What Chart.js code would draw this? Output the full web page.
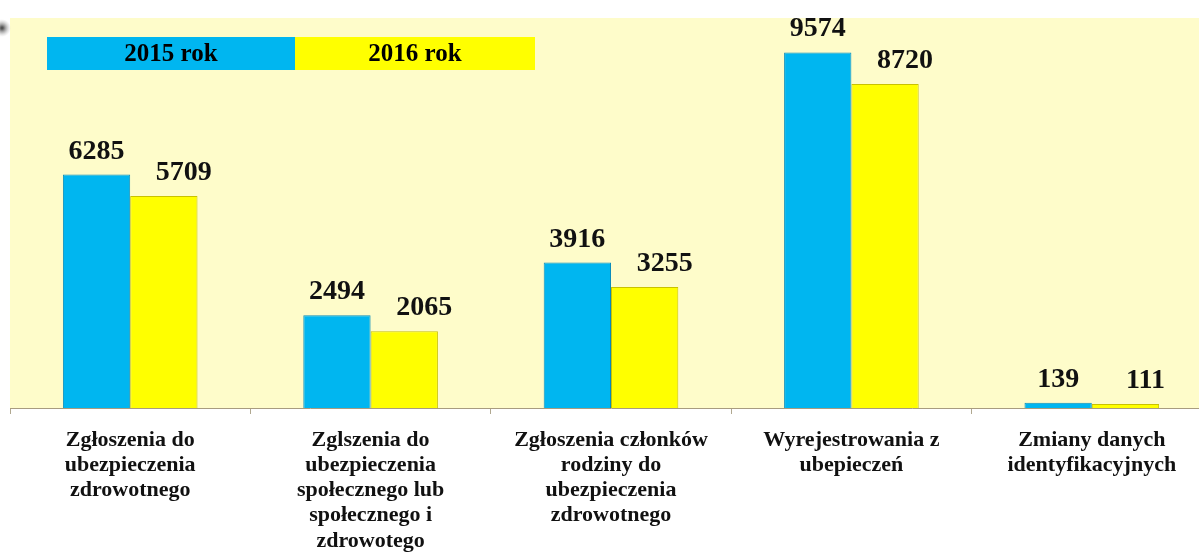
<!DOCTYPE html>
<html>
<head>
<meta charset="utf-8">
<script src="https://cdn.jsdelivr.net/npm/chart.js@4"></script>
<style>
  html, body { margin: 0; padding: 0; background: #fff; overflow: hidden; }
  #wrap { position: absolute; left: 0; top: 0; width: 1212px; height: 554px; }
</style>
</head>
<body>
<div id="wrap"><canvas id="mainCanvas"></canvas></div>
<script>
const categories = [
    ["Zgłoszenia do", "ubezpieczenia", "zdrowotnego"],
    ["Zglszenia do", "ubezpieczenia", "społecznego lub", "społecznego i", "zdrowotego"],
    ["Zgłoszenia członków", "rodziny do", "ubezpieczenia", "zdrowotnego"],
    ["Wyrejestrowania z", "ubepieczeń"],
    ["Zmiany danych", "identyfikacyjnych"]
];
const values2015 = [6285, 2494, 3916, 9574, 139];
const values2016 = [5709, 2065, 3255, 8720, 111];
const seriesNames = ["2015 rok", "2016 rok"];

const SERIF = "'Liberation Serif', 'DejaVu Serif', serif";

// cream plot background
const backPlugin = {
    id: 'back',
    beforeDraw(chart) {
        const ctx = chart.ctx, a = chart.chartArea;
        ctx.save();
        ctx.fillStyle = '#fefcca';
        ctx.fillRect(a.left, a.top, chart.width - a.left, a.bottom - a.top);
        // little grey knob at the top-left
        const g = ctx.createRadialGradient(2, 28, 1, 2, 28, 9);
        g.addColorStop(0, '#555');
        g.addColorStop(1, 'rgba(200,200,200,0)');
        ctx.fillStyle = g;
        ctx.beginPath();
        ctx.arc(2, 28, 9, 0, Math.PI * 2);
        ctx.fill();
        ctx.restore();
    }
};

// value labels above bars
const valuePlugin = {
    id: 'values',
    afterDatasetsDraw(chart) {
        const ctx = chart.ctx;
        ctx.save();
        ctx.font = "bold 28px " + SERIF;
        ctx.fillStyle = '#111';
        ctx.textAlign = 'center';
        ctx.textBaseline = 'alphabetic';
        chart.data.datasets.forEach((ds, i) => {
            const shift = i === 0 ? 0 : 20;
            chart.getDatasetMeta(i).data.forEach((bar, j) => {
                ctx.fillText(String(ds.data[j]), bar.x + shift, bar.y - 16);
            });
        });
        ctx.restore();
    }
};

// boxed legend at top-left
const legendPlugin = {
    id: 'boxLegend',
    afterDraw(chart) {
        const ctx = chart.ctx;
        const boxes = [[47, 295], [295, 535]];
        ctx.save();
        ctx.font = "bold 25px " + SERIF;
        ctx.textAlign = 'center';
        ctx.textBaseline = 'middle';
        chart.data.datasets.forEach((ds, i) => {
            const [x0, x1] = boxes[i];
            ctx.fillStyle = ds.backgroundColor;
            ctx.fillRect(x0, 37, x1 - x0, 33);
            ctx.fillStyle = '#000';
            ctx.fillText(ds.label, (x0 + x1) / 2, 55);
        });
        ctx.restore();
    }
};

new Chart(document.getElementById('mainCanvas'), {
    type: 'bar',
    data: {
        labels: categories,
        datasets: [
            {
                label: seriesNames[0],
                data: values2015,
                backgroundColor: '#00b6f0',
                borderColor: '#0a8cbc',
                borderWidth: 1
            },
            {
                label: seriesNames[1],
                data: values2016,
                backgroundColor: '#ffff00',
                borderColor: '#c9c200',
                borderWidth: 1
            }
        ]
    },
    options: {
        responsive: true,
        maintainAspectRatio: false,
        animation: false,
        layout: { padding: { left: 10, top: 18, right: 0, bottom: 0 } },
        plugins: {
            legend: { display: false },
            tooltip: { enabled: false }
        },
        datasets: {
            bar: { categoryPercentage: 0.56, barPercentage: 1 }
        },
        scales: {
            y: {
                display: false,
                min: 0,
                max: 10500
            },
            x: {
                grid: {
                    drawOnChartArea: false,
                    drawTicks: true,
                    tickLength: 6,
                    color: '#b0a890'
                },
                border: { display: true, color: '#a89c80', width: 1 },
                ticks: {
                    color: '#111',
                    font: { family: SERIF, weight: 'bold', size: 22, lineHeight: 1.14 },
                    padding: 14,
                    maxRotation: 0,
                    autoSkip: false
                },
                afterFit(scale) { scale.height = 146; }
            }
        }
    },
    plugins: [backPlugin, valuePlugin, legendPlugin]
});
</script>
</body>
</html>
